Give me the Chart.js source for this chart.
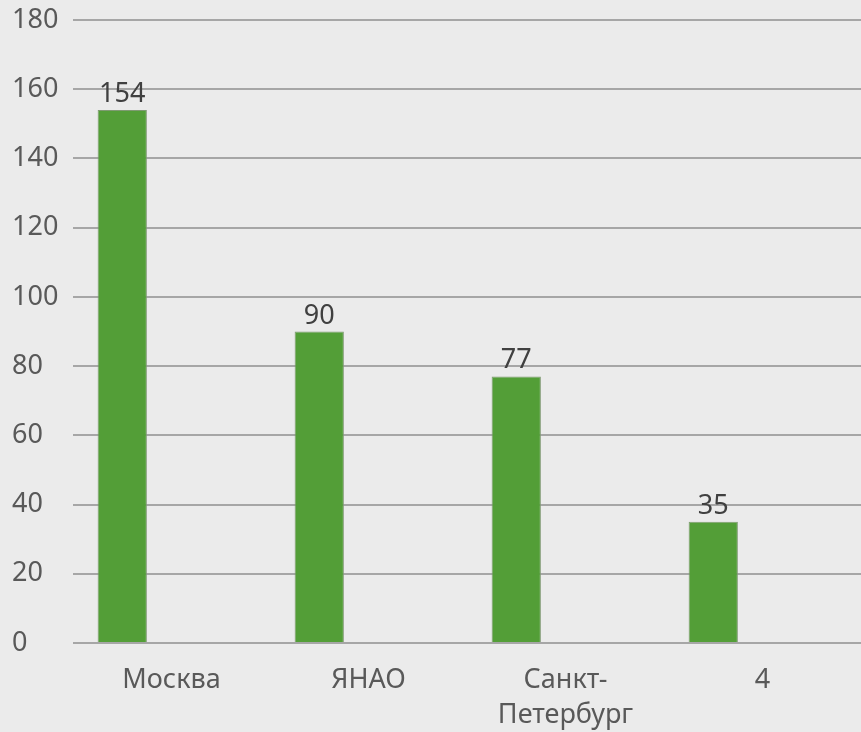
<!DOCTYPE html>
<html>
<head>
<meta charset="utf-8">
<script src="https://cdn.jsdelivr.net/npm/chart.js@4"></script>
<style>
  html, body { margin: 0; padding: 0; background: #ebebeb; }
  #wrap { width: 861px; height: 732px; }
</style>
</head>
<body>
<div id="wrap"><canvas id="chart" width="861" height="732"></canvas></div>
<script>
// данные с картинки
const regions = ['Москва', 'ЯНАО', ['Санкт-', 'Петербург'], '4'];
const series1 = [154, 90, 77, 35];
// пустые ряды, которые в оригинале занимают место в группе
const series2 = [null, null, null, null];
const series3 = [null, null, null, null];
const yMax = 180;
const yStep = 20;

const FONT = "'Noto Sans', 'Open Sans', sans-serif";
const FSIZE = 27;

// подписи значений над столбцами
const valueLabels = {
    id: 'valueLabels',
    afterDatasetsDraw(chart) {
        const ctx = chart.ctx;
        const meta = chart.getDatasetMeta(0);
        ctx.save();
        ctx.font = FSIZE + 'px ' + FONT;
        ctx.fillStyle = '#404040';
        ctx.textAlign = 'center';
        ctx.textBaseline = 'alphabetic';
        meta.data.forEach((bar, i) => {
            ctx.fillText(String(series1[i]), bar.x, bar.y - 8);
        });
        ctx.restore();
    }
};

new Chart(document.getElementById('chart'), {
    type: 'bar',
    data: {
        labels: regions,
        datasets: [
            { data: series1, backgroundColor: '#539e37', borderColor: '#7f9a72', borderWidth: 1 },
            { data: series2, backgroundColor: '#539e37' },
            { data: series3, backgroundColor: '#539e37' }
        ]
    },
    options: {
        responsive: false,
        animation: false,
        layout: { padding: { top: 20, right: 0, left: 12, bottom: 0 } },
        datasets: {
            bar: { categoryPercentage: 0.75, barPercentage: 1.0 }
        },
        plugins: {
            legend: { display: false },
            tooltip: { enabled: false }
        },
        scales: {
            x: {
                grid: { display: false },
                border: { display: false },
                ticks: {
                    color: '#595959',
                    font: { family: FONT, size: FSIZE, lineHeight: 1.3 },
                    padding: 12,
                    maxRotation: 0
                },
                afterFit(scale) { scale.height = 89; }
            },
            y: {
                min: 0,
                max: yMax,
                grid: { color: '#a6a6a6', lineWidth: 2, drawTicks: false },
                border: { display: false },
                ticks: {
                    stepSize: yStep,
                    color: '#595959',
                    font: { family: FONT, size: FSIZE },
                    crossAlign: 'far',
                    padding: 12
                },
                afterFit(scale) {
                    scale.width = 61;
                    scale.paddingTop = 0;
                    scale.paddingBottom = 0;
                }
            }
        }
    },
    plugins: [valueLabels]
});
</script>
</body>
</html>
